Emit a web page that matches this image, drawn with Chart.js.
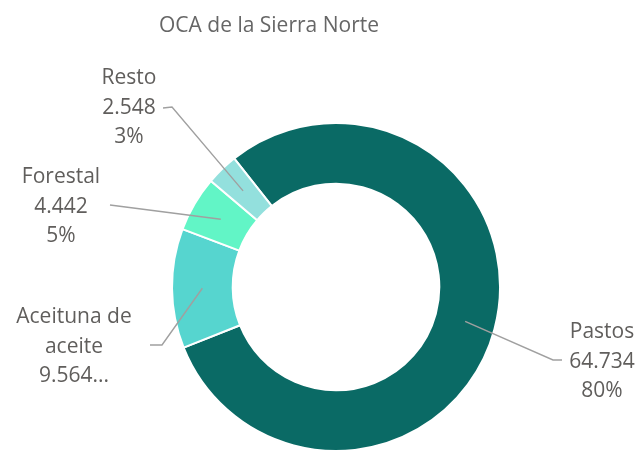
<!DOCTYPE html>
<html>
<head>
<meta charset="utf-8">
<script src="https://cdn.jsdelivr.net/npm/chart.js@4/dist/chart.umd.min.js"></script>
<style>
  html, body { margin: 0; padding: 0; background: #fff; }
  #wrap { width: 641px; height: 452px; position: relative; }
</style>
</head>
<body>
<div id="wrap"><canvas id="ocaChart"></canvas></div>
<script>
const categories = ['Pastos', 'Aceituna de aceite', 'Forestal', 'Resto'];
const values = [64734, 9564, 4442, 2548];
const labelLines = [
  ['Pastos', '64.734', '80%'],
  ['Aceituna de', 'aceite', '9.564...'],
  ['Forestal', '4.442', '5%'],
  ['Resto', '2.548', '3%'],
];
const colors = ['#0a6a65', '#56d5cf', '#62f5c6', '#93e0dd'];

// where each outside label sits, relative to the doughnut centre
const labelLayout = [
  { elbow: [217, 73], end: [226, 73], text: [266, 75] },
  { elbow: [-174, 58], end: [-186, 58], text: [-262, 60] },
  { elbow: [-226, -82], end: [-226, -82], text: [-275, -80] },
  { elbow: [-164, -180], end: [-173, -179], text: [-207, -179] },
];

const FONT = '"Open Sans", "Noto Sans", sans-serif';

const outsideLabels = {
  id: 'outsideLabels',
  afterDraw(chart) {
    const { ctx } = chart;
    const meta = chart.getDatasetMeta(0);
    ctx.save();
    // title
    ctx.fillStyle = '#666666';
    ctx.font = '21px ' + FONT;
    ctx.textAlign = 'center';
    ctx.textBaseline = 'middle';
    ctx.fillText('OCA de la Sierra Norte', 269, 26);

    meta.data.forEach((arc, i) => {
      const p = arc.getProps(['x', 'y', 'startAngle', 'endAngle', 'innerRadius', 'outerRadius'], true);
      const mid = (p.startAngle + p.endAngle) / 2;
      const r = (p.innerRadius + p.outerRadius) / 2;
      const sx = p.x + Math.cos(mid) * r;
      const sy = p.y + Math.sin(mid) * r;
      const lay = labelLayout[i];
      ctx.strokeStyle = '#a0a0a0';
      ctx.lineWidth = 1.4;
      ctx.beginPath();
      ctx.moveTo(sx, sy);
      ctx.lineTo(p.x + lay.elbow[0], p.y + lay.elbow[1]);
      ctx.lineTo(p.x + lay.end[0], p.y + lay.end[1]);
      ctx.stroke();

      ctx.fillStyle = '#605e5c';
      ctx.font = '21px ' + FONT;
      const tx = p.x + lay.text[0];
      const ty = p.y + lay.text[1];
      labelLines[i].forEach((t, k) => {
        ctx.fillText(t, tx, ty + (k - 1) * 29.5);
      });
    });
    ctx.restore();
  }
};

new Chart(document.getElementById('ocaChart'), {
  type: 'doughnut',
  data: {
    labels: categories,
    datasets: [{
      data: values,
      backgroundColor: colors,
      borderColor: '#ffffff',
      borderWidth: 2,
    }],
  },
  options: {
    responsive: true,
    maintainAspectRatio: false,
    animation: false,
    rotation: -38.4,
    cutout: '63%',
    layout: { padding: { top: 122, bottom: 0, left: 31, right: 0 } },
    plugins: {
      legend: { display: false },
      tooltip: { enabled: false },
      title: { display: false },
    },
  },
  plugins: [outsideLabels],
});
</script>
</body>
</html>
